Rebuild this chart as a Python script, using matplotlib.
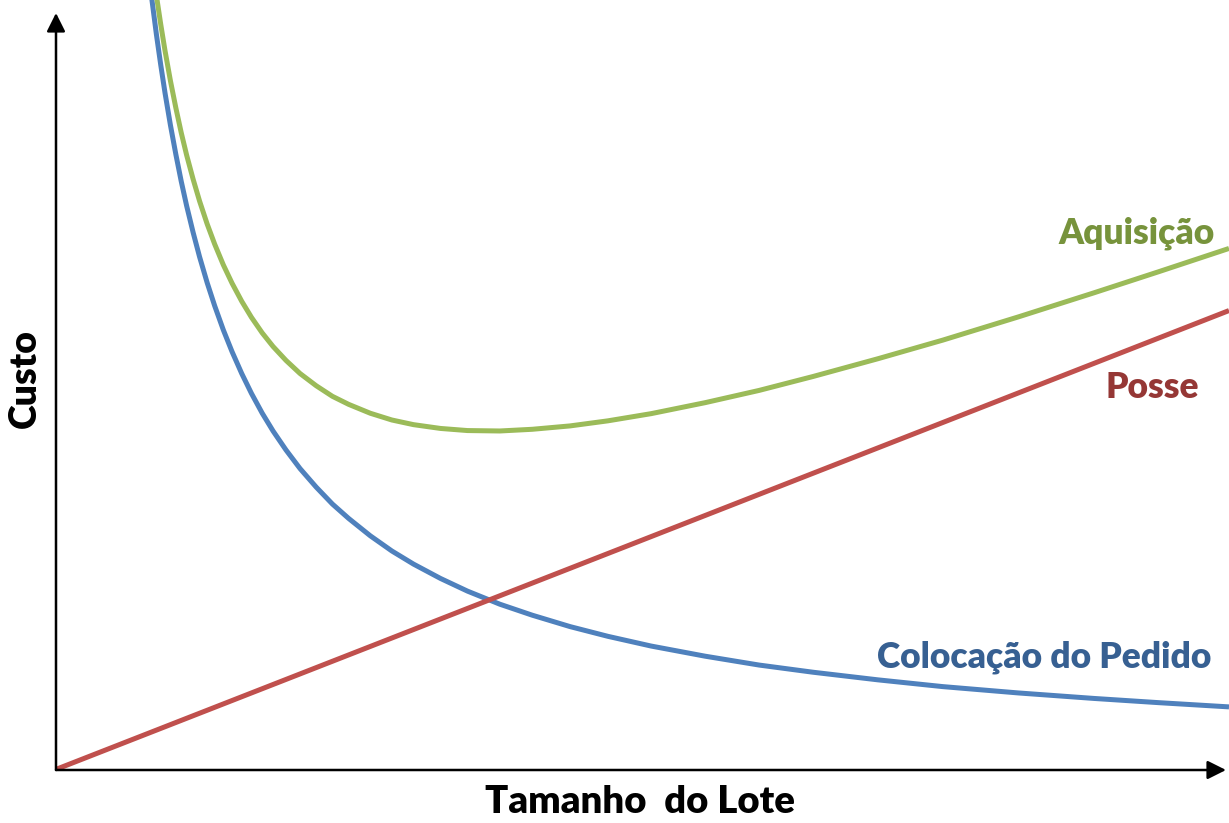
import numpy as np
import matplotlib
matplotlib.use("Agg")
import matplotlib.pyplot as plt

# =========================================================
# LOT SIZE COST CURVES
# =========================================================

lot_size = [0.84, 0.88, 0.92, 0.96, 1.0, 1.05, 1.1, 1.15, 1.2, 1.26,
            1.32, 1.39, 1.46, 1.54, 1.62, 1.71, 1.8, 1.9, 2.0, 2.12,
            2.25, 2.4, 2.55, 2.7, 2.9, 3.1, 3.3, 3.55, 3.8, 4.1,
            4.4, 4.75, 5.1, 5.5, 6.0, 6.5, 7.0, 7.6, 8.2, 8.9,
            9.6, 10.2, 10.85]

# ordering cost ("Colocação do Pedido")
ordering_cost = [19.05, 18.18, 17.39, 16.67, 16.00, 15.24, 14.55, 13.91, 13.33, 12.70,
                 12.12, 11.51, 10.96, 10.39, 9.88, 9.36, 8.89, 8.42, 8.00, 7.55,
                 7.11, 6.67, 6.27, 5.93, 5.52, 5.16, 4.85, 4.51, 4.21, 3.90,
                 3.64, 3.37, 3.14, 2.91, 2.67, 2.46, 2.29, 2.11, 1.95, 1.80,
                 1.67, 1.57, 1.47]

# holding cost ("Posse"), straight line from the origin
holding_cost = [0.84, 0.88, 0.92, 0.96, 1.0, 1.05, 1.1, 1.15, 1.2, 1.26,
                1.32, 1.39, 1.46, 1.54, 1.62, 1.71, 1.8, 1.9, 2.0, 2.12,
                2.25, 2.4, 2.55, 2.7, 2.9, 3.1, 3.3, 3.55, 3.8, 4.1,
                4.4, 4.75, 5.1, 5.5, 6.0, 6.5, 7.0, 7.6, 8.2, 8.9,
                9.6, 10.2, 10.85]

# total acquisition cost = ordering + holding
total_cost = np.array(ordering_cost) + np.array(holding_cost)

GREEN, GREEN_TXT = "#9BBB59", "#77933C"
RED, RED_TXT = "#C0504D", "#953735"
BLUE, BLUE_TXT = "#4F81BD", "#376092"

W, H = 1229, 823
plt.rcParams["font.family"] = ["Lato", "DejaVu Sans"]

fig = plt.figure(figsize=(W / 100, H / 100), dpi=100)
ax = fig.add_axes([57 / W, (H - 769) / H, (W - 57) / W, 769 / H])
ax.set_xlim(0, 10.85)
ax.set_ylim(0, 18.2)
ax.axis("off")

ax.plot(lot_size, ordering_cost, color=BLUE, lw=3.6, solid_capstyle="butt")
ax.plot([0.0] + lot_size, [0.0] + holding_cost, color=RED, lw=3.6, solid_capstyle="butt")
ax.plot(lot_size, total_cost, color=GREEN, lw=3.6, solid_capstyle="butt")

# axis arrows
arrow = dict(arrowstyle="-|>,head_length=0.8,head_width=0.4", mutation_scale=14,
             lw=1.8, color="black", shrinkA=0, shrinkB=0)
ax.annotate("", xy=(1226, H - 770), xytext=(56, H - 770),
            xycoords="figure pixels", textcoords="figure pixels", arrowprops=arrow)
ax.annotate("", xy=(56, H - 13), xytext=(56, H - 770),
            xycoords="figure pixels", textcoords="figure pixels", arrowprops=arrow)


def label(x, y, s, color, **kw):
    fig.text(x / W, 1 - y / H, s, color=color, fontweight="heavy", **kw)


label(1215, 243, "Aquisição", GREEN_TXT, fontsize=25.5, ha="right", va="baseline")
label(1199, 398, "Posse", RED_TXT, fontsize=25.5, ha="right", va="baseline")
label(1211, 667, "Colocação do Pedido", BLUE_TXT, fontsize=25.5, ha="right", va="baseline")
label(640, 813, "Tamanho  do Lote", "black", fontsize=27.5, ha="center", va="baseline")
label(25, 378, "Custo", "black", fontsize=27, ha="center", va="center", rotation=90)

fig.savefig("out.png", dpi=100)
